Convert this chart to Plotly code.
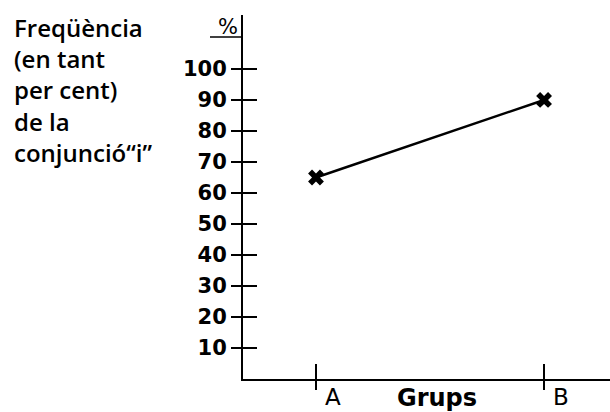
import plotly.graph_objects as go

groups = ["A", "B"]
freq_pct = [65, 90]
y_ticks = [10, 20, 30, 40, 50, 60, 70, 80, 90, 100]
y_title_lines = ["Freqüència", "(en tant", "per cent)", "de la", "conjunció“i”"]
x_title = "Grups"

W, H = 610, 412
ml, mr, mt, mb = 243, 0, 15, 33
pw, ph = W - ml - mr, H - mt - mb

def px_x(px):
    return (px - ml) / pw

def px_y(py):
    return (H - mb - py) / ph

yr = [0, 117.4]
xr = [-0.32, 1.289]

fig = go.Figure()
fig.add_trace(go.Scatter(
    x=groups, y=freq_pct, mode="lines+markers",
    line=dict(color="black", width=2.5),
    marker=dict(symbol="x", size=14, color="black"),
    hoverinfo="skip", showlegend=False,
))
fig.add_trace(go.Scatter(
    x=groups, y=freq_pct, mode="markers", xaxis="x2", yaxis="y2",
    marker=dict(opacity=0), hoverinfo="skip", showlegend=False,
))

tickfont = dict(family="DejaVu Sans", size=21, color="black", weight="bold")

fig.update_layout(
    width=W, height=H,
    margin=dict(l=ml, r=mr, t=mt, b=mb, pad=0),
    paper_bgcolor="white", plot_bgcolor="white",
    xaxis=dict(type="category", categoryorder="array", categoryarray=groups,
               range=xr, showgrid=False, zeroline=False,
               showline=True, linecolor="black", linewidth=2,
               ticks="outside", ticklen=9, tickwidth=2, tickcolor="black",
               showticklabels=False),
    xaxis2=dict(type="category", categoryorder="array", categoryarray=groups,
                range=xr, overlaying="x", side="bottom", showgrid=False,
                zeroline=False, showline=False,
                ticks="inside", ticklen=15, tickwidth=2, tickcolor="black",
                showticklabels=False),
    yaxis=dict(range=yr, tickvals=y_ticks, showgrid=False, zeroline=False,
               showline=True, linecolor="black", linewidth=2,
               ticks="outside", ticklen=10, tickwidth=2, tickcolor="black",
               tickfont=tickfont),
    yaxis2=dict(range=yr, tickvals=y_ticks, overlaying="y", side="left",
                showgrid=False, zeroline=False, showline=False,
                ticks="inside", ticklen=14, tickwidth=2, tickcolor="black",
                showticklabels=False),
)

# category labels, offset right of their ticks
for g in groups:
    fig.add_annotation(x=g, xref="x", y=px_y(397), yref="paper", text=g,
                       showarrow=False, xshift=17, xanchor="center", yanchor="middle",
                       font=dict(family="DejaVu Sans", size=23, color="black"))

fig.add_annotation(x=px_x(437), xref="paper", y=px_y(398), yref="paper",
                   text=x_title, showarrow=False, xanchor="center", yanchor="middle",
                   font=dict(family="DejaVu Sans", size=24, color="black", weight="bold"))

title_top, title_step = 27, 31.4
for i, line in enumerate(y_title_lines):
    fig.add_annotation(x=px_x(12), xref="paper", y=px_y(title_top + i * title_step),
                       yref="paper", text=line, showarrow=False,
                       xanchor="left", yanchor="middle", align="left",
                       font=dict(family="Open Sans", size=24, color="black", weight=600))

fig.add_annotation(x=px_x(228), xref="paper", y=px_y(27), yref="paper",
                   text="%", showarrow=False, xanchor="center", yanchor="middle",
                   font=dict(family="DejaVu Sans", size=21, color="black"))
fig.add_shape(type="line", xref="paper", yref="paper",
              x0=px_x(210), x1=px_x(243), y0=px_y(37), y1=px_y(37),
              line=dict(color="black", width=1.5))

fig.write_html("out.html", config={"displayModeBar": False},
               post_script="document.body.style.margin='0';")
